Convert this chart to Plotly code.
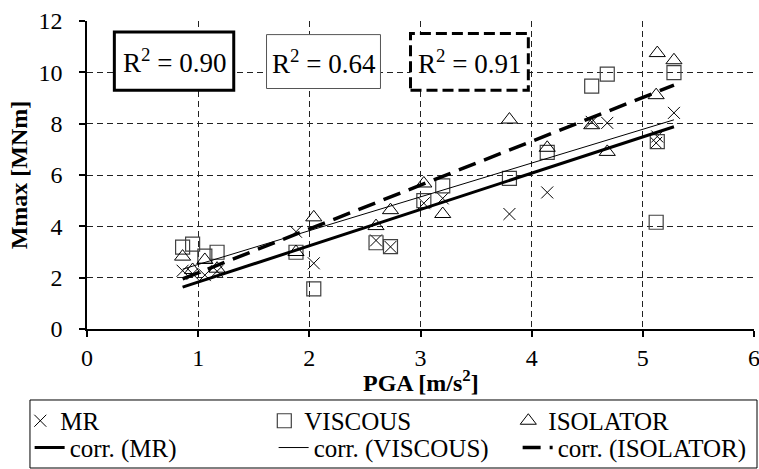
import plotly.graph_objects as go

# ---- data ----
pga = [0.86, 0.95, 1.06, 1.17, 1.88, 2.04, 2.60, 2.73, 3.03, 3.20, 3.80, 4.14, 4.54, 4.68, 5.13, 5.12, 5.28]
mr = [2.27, 2.15, 2.10, 2.25, 3.79, 2.56, 3.45, 3.20, 4.90, 5.09, 4.48, 5.32, 8.07, 8.03, 7.50, 7.25, 8.42]
viscous = [3.19, 3.31, 2.84, 2.99, 2.99, 1.56, 3.36, 3.21, 5.00, 5.58, 5.87, 6.88, 9.46, 9.93, 7.30, 4.16, 9.99]
isolator = [2.82, 2.30, 2.69, 2.35, 3.00, 4.35, 4.01, 4.63, 5.67, 4.48, 8.16, 7.06, 7.94, 6.90, 10.75, 9.11, 10.47]

fit_x = [0.86, 5.28]
fit_mr = [1.63, 7.88]
fit_viscous = [2.33, 8.15]
fit_isolator = [1.95, 9.50]

r2_labels = ["R<sup>2</sup> = 0.90", "R<sup>2</sup> = 0.64", "R<sup>2</sup> = 0.91"]

x_ticks = [0, 1, 2, 3, 4, 5, 6]
y_ticks = [0, 2, 4, 6, 8, 10, 12]

FONT = "Times New Roman, Liberation Serif, Times, serif"

fig = go.Figure()
fig.add_trace(go.Scatter(x=pga, y=mr, mode="markers", name="MR", legend="legend",
                         marker=dict(symbol="x-thin-open", size=12, color="black",
                                     line=dict(color="black", width=1))))
fig.add_trace(go.Scatter(x=pga, y=viscous, mode="markers", name="VISCOUS", legend="legend",
                         marker=dict(symbol="square-open", size=14, color="#404040",
                                     line=dict(color="#404040", width=1.2))))
fig.add_trace(go.Scatter(x=pga, y=isolator, mode="markers", name="ISOLATOR", legend="legend",
                         marker=dict(symbol="triangle-up-open", size=14, color="black",
                                     line=dict(color="black", width=1))))
fig.add_trace(go.Scatter(x=fit_x, y=fit_mr, mode="lines", name="corr. (MR)", legend="legend2",
                         line=dict(color="black", width=3)))
fig.add_trace(go.Scatter(x=fit_x, y=fit_viscous, mode="lines", name="corr. (VISCOUS)", legend="legend2",
                         line=dict(color="black", width=1)))
fig.add_trace(go.Scatter(x=fit_x, y=fit_isolator, mode="lines", name="corr. (ISOLATOR)", legend="legend2",
                         line=dict(color="black", width=3.5, dash="18px,9px")))

# R^2 boxes
boxes = [
    dict(x0=0.246, x1=1.32, y0=9.30, y1=11.57, line=dict(color="black", width=3)),
    dict(x0=1.615, x1=2.64, y0=9.37, y1=11.47, line=dict(color="#555555", width=1)),
    dict(x0=2.91, x1=3.97, y0=9.30, y1=11.51, line=dict(color="black", width=3, dash="11px,5px")),
]
for b, lab in zip(boxes, r2_labels):
    fig.add_shape(type="rect", xref="x", yref="y", x0=b["x0"], x1=b["x1"], y0=b["y0"], y1=b["y1"],
                  line=b["line"], fillcolor="white", layer="above")
    fig.add_annotation(x=(b["x0"] + b["x1"]) / 2, y=(b["y0"] + b["y1"]) / 2, xref="x", yref="y",
                       text=lab, showarrow=False, font=dict(family=FONT, size=27, color="black"))

# frame around the two legend rows
fig.add_shape(type="rect", xref="paper", yref="paper", x0=-0.0855, x1=1.0045, y0=-0.4513, y1=-0.2305,
              line=dict(color="black", width=1), fillcolor="rgba(0,0,0,0)", layer="above")

# x-axis title placed as annotation (close under the tick labels, as in the reference)
fig.add_annotation(x=0.5, y=-0.17, xref="paper", yref="paper", xanchor="center", yanchor="middle",
                   text="<b>PGA [m/s<sup>2</sup>]</b>", showarrow=False,
                   font=dict(family=FONT, size=24, color="black"))

axis_common = dict(
    showline=True, linecolor="black", linewidth=1.5,
    ticks="outside", ticklen=6, tickwidth=1.5, tickcolor="black",
    showgrid=True, gridcolor="#222222", gridwidth=1, griddash="6px,4px",
    zeroline=False, tickfont=dict(family=FONT, size=24, color="black"),
    ticklabeloverflow="allow",
)

legend_common = dict(orientation="h", xanchor="left", yanchor="top",
                     borderwidth=0, bgcolor="rgba(0,0,0,0)",
                     font=dict(family=FONT, size=25, color="black"),
                     entrywidth=199, entrywidthmode="pixels", tracegroupgap=0)

fig.update_layout(
    width=759, height=469,
    margin=dict(l=87, r=5, t=21, b=140, autoexpand=False),
    paper_bgcolor="white", plot_bgcolor="white",
    font=dict(family=FONT, color="black"),
    xaxis=dict(range=[0, 6], tickvals=x_ticks, ticklabelstandoff=0, **axis_common),
    yaxis=dict(range=[0, 12], tickvals=y_ticks, ticklabelstandoff=12,
               title=dict(text="<b>Mmax [MNm]</b>", font=dict(family=FONT, size=24), standoff=4),
               **axis_common),
    showlegend=True,
    legend=dict(x=-0.1, y=-0.224, **legend_common),
    legend2=dict(x=-0.086, y=-0.311, **legend_common),
)

fig.write_html("out.html")
